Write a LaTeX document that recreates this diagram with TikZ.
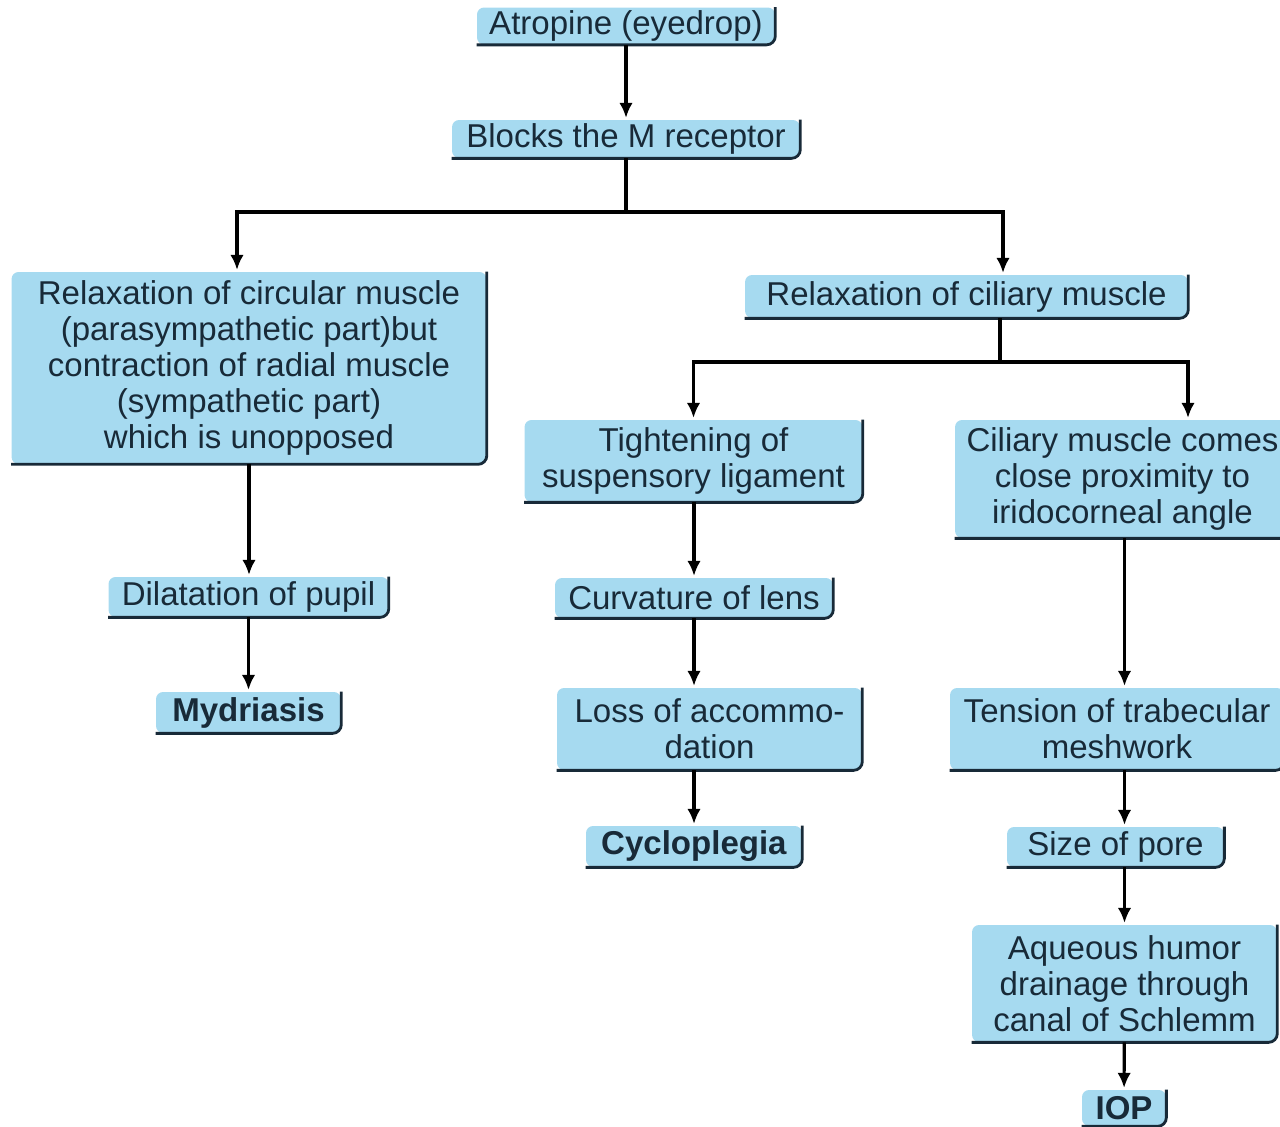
\documentclass[tikz,border=0pt]{standalone}
\usepackage{fontspec}
\setmainfont{Liberation Sans}
\usetikzlibrary{positioning,arrows.meta}
\definecolor{boxblue}{RGB}{166,218,240}
\definecolor{inkdark}{RGB}{24,42,56}
\tikzstyle{block} = [rectangle, fill=boxblue, text=inkdark, align=center,
rounded corners=4pt, inner sep=0pt, font=\fontsize{18.8}{20.5}\selectfont]
\tikzstyle{rim} = [draw=inkdark, line width=1.6pt, rounded corners=5pt]
\tikzstyle{line} = [draw=black, line width=1.8pt, -{Latex[length=0.3cm,width=0.27cm]}, shorten >=1pt]

\begin{document}
\begin{tikzpicture}[x=0.02cm, y=-0.02cm]
    \useasboundingbox (0,0) rectangle (1280,1126);
    % nodes
   \node [block, minimum width=5.96cm, minimum height=0.74cm] (atro) at (626,26) {Atropine (eyedrop)};
   \node [block, minimum width=6.96cm, minimum height=0.76cm] (mrec) at (626,139) {Blocks the M receptor};
   \node [block, minimum width=9.5cm, minimum height=3.84cm] (circ) at (249,368) {Relaxation of circular muscle\\(parasympathetic part)but\\contraction of radial muscle\\(sympathetic part)\\which is unopposed};
   \node [block, minimum width=8.86cm, minimum height=0.86cm] (cil) at (966.5,296.5) {Relaxation of ciliary muscle};
   \node [block, minimum width=6.76cm, minimum height=1.64cm] (tight) at (693.5,461) {Tightening of\\suspensory ligament};
   \node [block, minimum width=6.7cm, minimum height=2.36cm] (prox) at (1122.5,479) {Ciliary muscle comes\\close proximity to\\iridocorneal angle};
   \node [block, minimum width=5.6cm, minimum height=0.8cm] (dil) at (248.5,597) {Dilatation of pupil};
   \node [block, minimum width=3.7cm, minimum height=0.82cm] (myd) at (248.5,712.5) {\textbf{Mydriasis}};
   \node [block, minimum width=5.56cm, minimum height=0.8cm] (curv) at (694,598) {Curvature of lens};
   \node [block, minimum width=6.1cm, minimum height=1.64cm] (loss) at (709.5,729) {Loss of accommo-\\dation};
   \node [block, minimum width=4.32cm, minimum height=0.82cm] (cyclo) at (694,846.5) {\textbf{Cycloplegia}};
   \node [block, minimum width=6.68cm, minimum height=1.64cm] (tens) at (1117,729) {Tension of trabecular\\meshwork};
   \node [block, minimum width=4.34cm, minimum height=0.8cm] (pore) at (1115.5,847) {Size of pore};
   \node [block, minimum width=6.1cm, minimum height=2.34cm] (aqu) at (1124.5,983.5) {Aqueous humor\\drainage through\\canal of Schlemm};
   \node [block, minimum width=1.68cm, minimum height=0.72cm] (iop) at (1124,1108) {\textbf{IOP}};

    % box edges
   \foreach \n in {atro,mrec,circ,cil,tight,prox,dil,myd,curv,loss,cyclo,tens,pore,aqu,iop}
      \draw [rim] (\n.north east) -- (\n.south east) -- (\n.south west);

    % edges
   \coordinate (fork1) at (626,212);
   \coordinate (fork2) at (1000,362);
          \path [line] (atro) -- (mrec);
          \draw [line] (mrec.south) -- (fork1) -| ([xshift=-0.24cm]circ.north);
          \draw [line] (fork1) -| ([xshift=0.73cm]cil.north);
          \draw [line] (cil.south -| fork2) -- (fork2) -| (tight.north);
          \draw [line] (fork2) -| ([xshift=1.31cm]prox.north);
          \path [line] (circ.south) -- (circ.south |- dil.north);
          \path [line] (myd.north |- dil.south) -- (myd.north);
          \path [line] (curv.north |- tight.south) -- (curv.north);
          \path [line] (curv.south) -- (curv.south |- loss.north);
          \path [line] (cyclo.north |- loss.south) -- (cyclo.north);
          \path [line] (aqu.north |- prox.south) -- (aqu.north |- tens.north);
          \path [line] (aqu.north |- tens.south) -- (aqu.north |- pore.north);
          \path [line] (aqu.north |- pore.south) -- (aqu.north);
          \path [line] (aqu) -- (iop);

  \end{tikzpicture}
\end{document}
